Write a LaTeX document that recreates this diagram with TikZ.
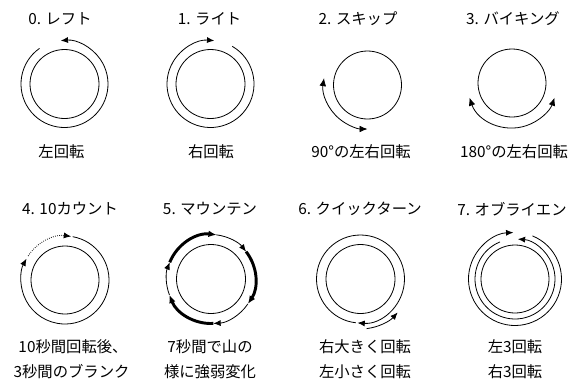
\documentclass[tikz,border=0pt]{standalone}
\usepackage{fontspec}
\setmainfont{Noto Sans CJK JP}
\usetikzlibrary{arrows.meta}

\begin{document}
\begin{tikzpicture}[x=0.75pt,y=0.75pt,
	ring/.style={line width=0.6pt},
	spin/.style={line width=0.6pt,-{Latex[length=5.5pt,width=4.5pt]}},
	swing/.style={line width=0.6pt,{Latex[length=6pt,width=5pt]}-{Latex[length=6pt,width=5pt]}},
	heavy/.style={line width=2.2pt,-{Latex[length=6pt,width=5pt]}}]
	\useasboundingbox (0,0) rectangle (571,380);

	\coordinate (c0) at (64.5,296);
	\coordinate (c1) at (210.5,296);
	\coordinate (c2) at (367.5,295);
	\coordinate (c3) at (512,297);
	\coordinate (c4) at (65,100);
	\coordinate (c5) at (211,101);
	\coordinate (c6) at (360.5,101);
	\coordinate (c7) at (515,101);

	\begin{scope}[every node/.style={font=\fontsize{11.5}{14}\selectfont, inner sep=0pt}]
		\node (t0) at (60,361) {0. レフト};
		\node (t1) at (209.5,361) {1. ライト};
		\node (t2) at (358,361) {2. スキップ};
		\node (t3) at (513,361) {3. バイキング};
		\node (t4) at (70,171) {4. 10カウント};
		\node (t5) at (210,171) {5. マウンテン};
		\node (t6) at (360,171) {6. クイックターン};
		\node (t7) at (512,171) {7. オブライエン};

		\node (l0) at (61.5,228) {左回転};
		\node (l1) at (211,228) {右回転};
		\node (l2) at (361,228) {90°の左右回転};
		\node (l3) at (514,228) {180°の左右回転};
		\node (l4a) at (73,33.5) {10秒間回転後、};
		\node (l4b) at (71.5,8.5) {3秒間のブランク};
		\node (l5a) at (210,33.5) {7秒間で山の};
		\node (l5b) at (210,8.5) {様に強弱変化};
		\node (l6a) at (365,33.5) {右大きく回転};
		\node (l6b) at (365,8.5) {左小さく回転};
		\node (l7a) at (515,33.5) {左3回転};
		\node (l7b) at (515,8.5) {右3回転};
	\end{scope}

	% 0 left
	\draw[ring] (c0) circle[radius=34.5];
	\draw[spin] (c0) ++(125:43.5) arc[start angle=125, end angle=455, radius=43.5];

	% 1 right
	\draw[ring] (c1) circle[radius=34.5];
	\draw[spin] (c1) ++(60:43.5) arc[start angle=60, end angle=-275, radius=43.5];

	% 2 skip
	\draw[ring] (c2) circle[radius=34];
	\draw[swing] (c2) ++(171:44) arc[start angle=171, end angle=270, radius=44];

	% 3 viking
	\draw[ring] (c3) circle[radius=34];
	\draw[swing] (c3) ++(199:45) arc[start angle=199, end angle=341, radius=45];

	% 4 count
	\draw[ring] (c4) circle[radius=34];
	\draw[spin] (c4) ++(80:44) arc[start angle=80, end angle=-209, radius=44];
	\draw[spin, densely dotted] (c4) ++(147:44) arc[start angle=147, end angle=82, radius=44];

	% 5 mountain
	\draw[ring] (c5) circle[radius=34.5];
	\draw[heavy] (c5) ++(158:44.5) arc[start angle=158, end angle=83, radius=44.5];
	\draw[spin] (c5) ++(83:44.5) arc[start angle=83, end angle=38, radius=44.5];
	\draw[heavy] (c5) ++(38:44.5) arc[start angle=38, end angle=-34, radius=44.5];
	\draw[spin] (c5) ++(-34:44.5) arc[start angle=-34, end angle=-87, radius=44.5];
	\draw[heavy] (c5) ++(-87:44.5) arc[start angle=-87, end angle=-159, radius=44.5];
	\draw[spin] (c5) ++(-159:44.5) arc[start angle=-159, end angle=-202, radius=44.5];

	% 6 quick turn
	\draw[ring] (c6) circle[radius=34.5];
	\draw[spin] (c6) ++(264:44) arc[start angle=264, end angle=-94, radius=44];
	\draw[spin] (c6) ++(-83:50) arc[start angle=-83, end angle=-42, radius=50];

	% 7 o'brien
	\draw[ring] (c7) circle[radius=34];
	\draw[spin] (c7) ++(112:40) arc[start angle=112, end angle=446, radius=40];
	\draw[spin] (c7) ++(68:46.5) arc[start angle=68, end angle=-268, radius=46.5];
\end{tikzpicture}
\end{document}
